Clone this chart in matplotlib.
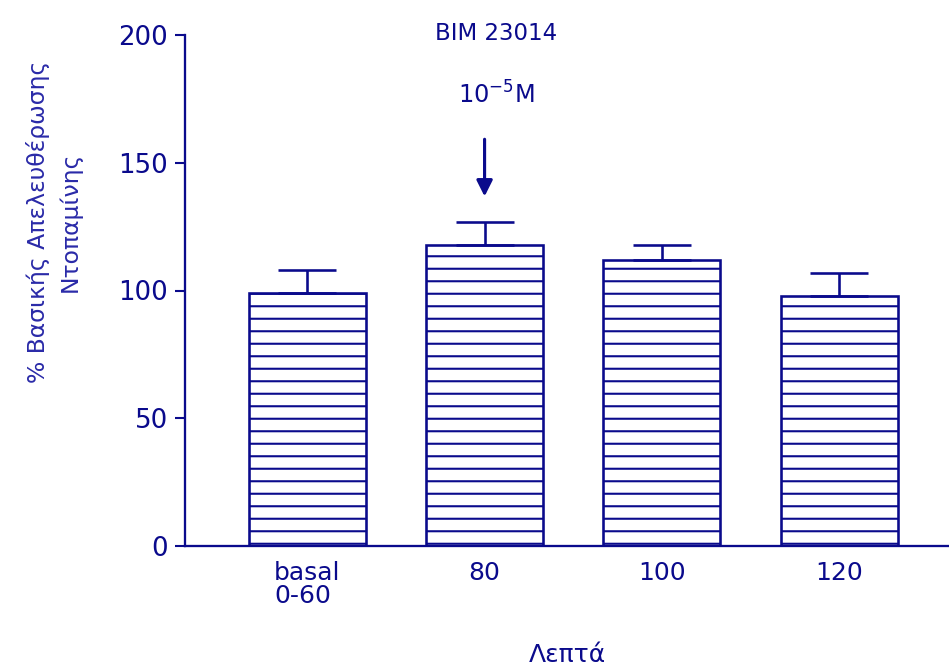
import matplotlib
matplotlib.use('Agg')
import matplotlib.pyplot as plt
import numpy as np

# data
categories = ['basal\n0-60', '80', '100', '120']
means = [99, 118, 112, 98]
errors = [9, 9, 6, 9]

navy = '#0a0a8c'
plt.rcParams['font.family'] = ['DejaVu Sans']
plt.rcParams['hatch.linewidth'] = 2.0
plt.rcParams['hatch.color'] = navy

dpi = 75
fig = plt.figure(figsize=(949 / dpi, 669 / dpi), dpi=dpi)
ax = fig.add_axes([185 / 949, 1 - 546 / 669, 1 - 185 / 949, 511 / 669])

x = np.arange(len(categories))
ax.bar(x, means, width=0.66, color='white', edgecolor=navy, linewidth=2.5, hatch='-')
ax.errorbar(x, means, yerr=[np.zeros(len(errors)), errors], fmt='none',
            ecolor=navy, elinewidth=2.5, capsize=28, capthick=2.5)

ax.set_xlim(-0.69, 3.62)
ax.set_ylim(0, 200)
ax.set_yticks([0, 50, 100, 150, 200])

for s in ['top', 'right']:
    ax.spines[s].set_visible(False)
for s in ['left', 'bottom']:
    ax.spines[s].set_color(navy)
    ax.spines[s].set_linewidth(2.2)

ax.tick_params(axis='y', colors=navy, labelsize=25, length=10, width=2, pad=6)
ax.tick_params(axis='x', colors=navy, labelsize=24, length=0, pad=14)
ax.set_xticks(x)
ax.set_xticklabels(categories)
for lab in ax.get_xticklabels():
    lab.set_multialignment('left')
    lab.set_linespacing(0.95)

ax.set_xlabel('Λεπτά', color=navy, fontsize=24, labelpad=34)
ax.set_ylabel('% Βασικής Απελευθέρωσης\nΝτοπαμίνης', color='#2a2aa8',
              fontsize=22.5, linespacing=1.45)
ax.yaxis.set_label_coords(-0.135, 0.635)

# stimulus annotation
fig.text(496 / 949, 1 - 33 / 669, 'BIM 23014', color=navy, fontsize=22,
         ha='center', va='center')
fig.text(496 / 949, 1 - 95 / 669, r'10$^{\mathregular{-5}}$M', color=navy, fontsize=23,
         ha='center', va='center')
ax.annotate('', xy=(1, 136), xytext=(1, 160),
            arrowprops=dict(arrowstyle='-|>', color=navy, lw=3, mutation_scale=32))

fig.savefig('out.png', dpi=dpi, facecolor='white')
